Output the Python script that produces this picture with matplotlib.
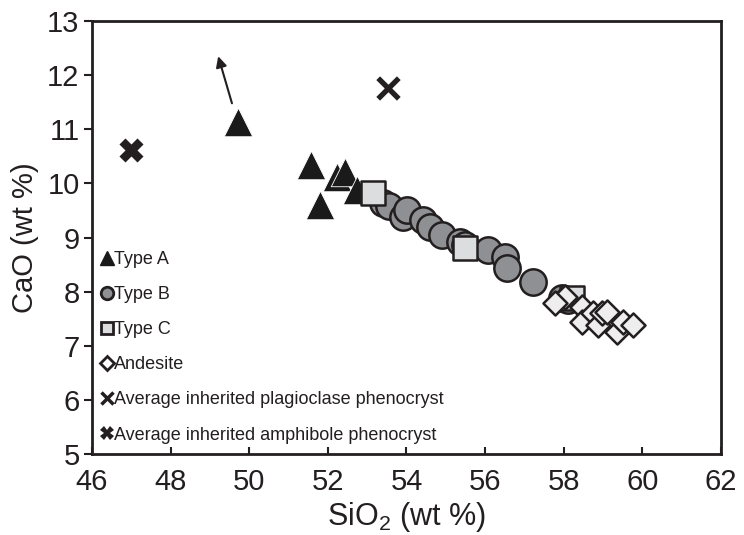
import matplotlib.pyplot as plt
from matplotlib.lines import Line2D

plt.rcParams['font.family'] = ['Liberation Sans', 'DejaVu Sans']
plt.rcParams['mathtext.fontset'] = 'custom'
plt.rcParams['mathtext.rm'] = 'Liberation Sans'
plt.rcParams['mathtext.it'] = 'Liberation Sans:italic'

# SiO2 / CaO (wt %)
type_a_sio2 = [49.71, 51.57, 51.80, 52.23, 52.44, 52.74]
type_a_cao = [11.13, 10.34, 9.60, 10.12, 10.21, 9.88]

type_b_sio2 = [53.40, 53.55, 53.91, 54.01, 54.42, 54.60, 54.91, 55.36, 55.50,
               56.08, 56.51, 56.56, 57.22, 57.95, 58.10]
type_b_cao = [9.64, 9.58, 9.38, 9.51, 9.32, 9.19, 9.04, 8.91, 8.86,
              8.77, 8.64, 8.43, 8.18, 7.88, 7.84]

type_c_sio2 = [53.15, 55.49, 58.21]
type_c_cao = [9.82, 8.80, 7.88]

andesite_sio2 = [58.04, 57.78, 58.47, 58.47, 58.75, 58.88, 58.98, 59.10,
                 59.36, 59.51, 59.77]
andesite_cao = [7.90, 7.79, 7.71, 7.44, 7.60, 7.38, 7.60, 7.62,
                7.25, 7.44, 7.38]

plag_sio2, plag_cao = [53.53], [11.76]
amph_sio2, amph_cao = [46.99], [10.62]

# arrow from the high-CaO type A sample
arrow_tail = (49.56, 11.48)
arrow_head = (49.21, 12.35)

edge = '#231f20'

fig = plt.figure(figsize=(7.44, 5.35), dpi=100)
ax = fig.add_axes([0.1237, 0.1514, 0.8453, 0.8093])

ax.scatter(type_a_sio2, type_a_cao, marker='^', s=420, c='#1a1a1a',
           edgecolors='white', linewidths=0.6, zorder=3)
ax.scatter(type_b_sio2, type_b_cao, marker='o', s=360, c='#8e9093',
           edgecolors=edge, linewidths=1.8, zorder=4)
ax.scatter(type_c_sio2, type_c_cao, marker='s', s=280, c='#dcdddf',
           edgecolors=edge, linewidths=1.8, zorder=5)
ax.scatter(andesite_sio2, andesite_cao, marker='D', s=150, c='#eeeeef',
           edgecolors=edge, linewidths=1.8, zorder=6)
ax.scatter(plag_sio2, plag_cao, marker='x', s=220, c=edge, linewidths=3.8, zorder=6)
ax.scatter(amph_sio2, amph_cao, marker='X', s=300, c=edge, linewidths=0, zorder=6)

ax.annotate('', xy=arrow_head, xytext=arrow_tail,
            arrowprops=dict(arrowstyle='-|>', color=edge, lw=1.5,
                            mutation_scale=16, shrinkA=0, shrinkB=0))

ax.set_xlim(46, 62)
ax.set_ylim(5, 13)
ax.set_xticks(range(46, 63, 2))
ax.set_yticks(range(5, 14))
ax.tick_params(axis='x', direction='in', length=5, width=1.5, labelsize=21,
               pad=10, colors=edge)
ax.tick_params(axis='y', direction='out', length=6, width=1.5, labelsize=21,
               pad=3, colors=edge)
for s in ax.spines.values():
    s.set_linewidth(2)
    s.set_color(edge)
ax.set_xlabel('SiO$_2$ (wt %)', fontsize=22, color=edge, labelpad=3)
ax.set_ylabel('CaO (wt %)', fontsize=21, color=edge, labelpad=6)

handles = [
    Line2D([], [], ls='none', marker='^', ms=10, mfc='#1a1a1a', mec='#1a1a1a'),
    Line2D([], [], ls='none', marker='o', ms=9, mfc='#8e9093', mec=edge, mew=2),
    Line2D([], [], ls='none', marker='s', ms=9, mfc='#dcdddf', mec=edge, mew=2),
    Line2D([], [], ls='none', marker='D', ms=7.5, mfc='white', mec=edge, mew=2),
    Line2D([], [], ls='none', marker='x', ms=8, mec=edge, mew=2.5),
    Line2D([], [], ls='none', marker='X', ms=10, mfc=edge, mec=edge, mew=0),
]
labels = ['Type A', 'Type B', 'Type C', 'Andesite',
          'Average inherited plagioclase phenocryst',
          'Average inherited amphibole phenocryst']
ax.legend(handles, labels, loc='lower left', bbox_to_anchor=(-0.005, -0.005),
          frameon=False, fontsize=13, handlelength=0.6, handletextpad=0.1,
          labelspacing=1.0, borderaxespad=0.3, labelcolor=edge)

fig.savefig('out.png', dpi=100)
